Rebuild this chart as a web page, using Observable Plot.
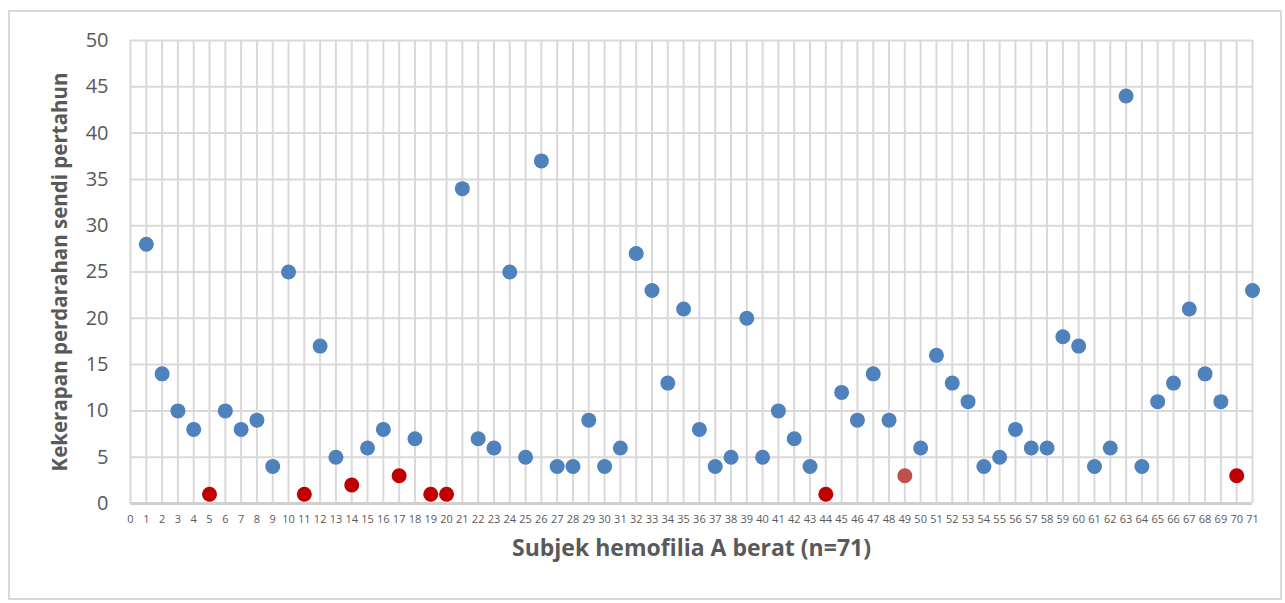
<!DOCTYPE html>
<html>
<head>
<meta charset="utf-8">
<script src="https://cdn.jsdelivr.net/npm/d3@7"></script>
<script src="https://cdn.jsdelivr.net/npm/@observablehq/plot@0.6"></script>
<style>
  html, body { margin: 0; padding: 0; background: #fff; }
  #wrap { position: relative; width: 1285px; height: 603px; overflow: hidden; }
  #frame { position: absolute; left: 8px; top: 10px; width: 1274px; height: 590px; border: 2px solid #d9d9d9; box-sizing: border-box; pointer-events: none; }
  #chart { position: absolute; left: 0; top: 0; }
</style>
</head>
<body>
<div id="wrap"><div id="chart"></div><div id="frame"></div></div>
<script>
// Subject numbers (1..71)
const subjects = [1,2,3,4,5,6,7,8,9,10,11,12,13,14,15,16,17,18,19,20,21,22,23,24,25,26,27,28,29,30,31,32,33,34,35,36,37,38,39,40,41,42,43,44,45,46,47,48,49,50,51,52,53,54,55,56,57,58,59,60,61,62,63,64,65,66,67,68,69,70,71];
// Annual joint bleeding rate per subject
const bleeds = [28,14,10,8,1,10,8,9,4,25,1,17,5,2,6,8,3,7,1,1,34,7,6,25,5,37,4,4,9,4,6,27,23,13,21,8,4,5,20,5,10,7,4,1,12,9,14,9,3,6,16,13,11,4,5,8,6,6,18,17,4,6,44,4,11,13,21,14,11,3,23];
// Point group per subject
const groups = ["A","A","A","A","B","A","A","A","A","A","B","A","A","B","A","A","B","A","B","B","A","A","A","A","A","A","A","A","A","A","A","A","A","A","A","A","A","A","A","A","A","A","A","B","A","A","A","A","C","A","A","A","A","A","A","A","A","A","A","A","A","A","A","A","A","A","A","A","A","B","A"];
const groupDomain = ["A","B","C"];
const xTicks = [0,1,2,3,4,5,6,7,8,9,10,11,12,13,14,15,16,17,18,19,20,21,22,23,24,25,26,27,28,29,30,31,32,33,34,35,36,37,38,39,40,41,42,43,44,45,46,47,48,49,50,51,52,53,54,55,56,57,58,59,60,61,62,63,64,65,66,67,68,69,70,71];
const yTicks = [0,5,10,15,20,25,30,35,40,45,50];
const xTitle = "Subjek hemofilia A berat (n=71)";
const yTitle = "Kekerapan perdarahan sendi pertahun";

const data = subjects.map((s, i) => ({subject: s, value: bleeds[i], group: groups[i]}));

const chart = Plot.plot({
  width: 1285,
  height: 603,
  marginLeft: 130,
  marginRight: 33,
  marginTop: 40,
  marginBottom: 100,
  style: {fontFamily: "'Open Sans', 'Noto Sans', sans-serif", color: "#595959", background: "transparent"},
  x: {domain: [0, 71]},
  y: {domain: [0, 50]},
  color: {domain: groupDomain, range: ["#4f81bd", "#c00000", "#c0504d"]},
  marks: [
    Plot.gridX(xTicks, {stroke: "#d9d9d9", strokeOpacity: 1, strokeWidth: 2}),
    Plot.gridY(yTicks, {stroke: "#d9d9d9", strokeOpacity: 1, strokeWidth: 2}),
    Plot.ruleY([0], {stroke: "#d0d0d0", strokeWidth: 3}),
    Plot.axisY(yTicks, {tickSize: 0, tickPadding: 22, fontSize: 20, label: null}),
    Plot.axisX(xTicks, {tickSize: 0, tickPadding: 12, fontSize: 11, label: null}),
    Plot.dot(data, {x: "subject", y: "value", fill: "group", r: 7.5, stroke: null}),
    Plot.text([xTitle], {frameAnchor: "bottom", textAnchor: "middle", dy: 52, fontSize: 23, fontWeight: "bold", fill: "#595959"}),
    Plot.text([yTitle], {frameAnchor: "left", textAnchor: "middle", dx: -70, rotate: -90, fontSize: 20.5, fontWeight: "bold", fill: "#595959"})
  ]
});
document.getElementById("chart").appendChild(chart);
</script>
</body>
</html>
